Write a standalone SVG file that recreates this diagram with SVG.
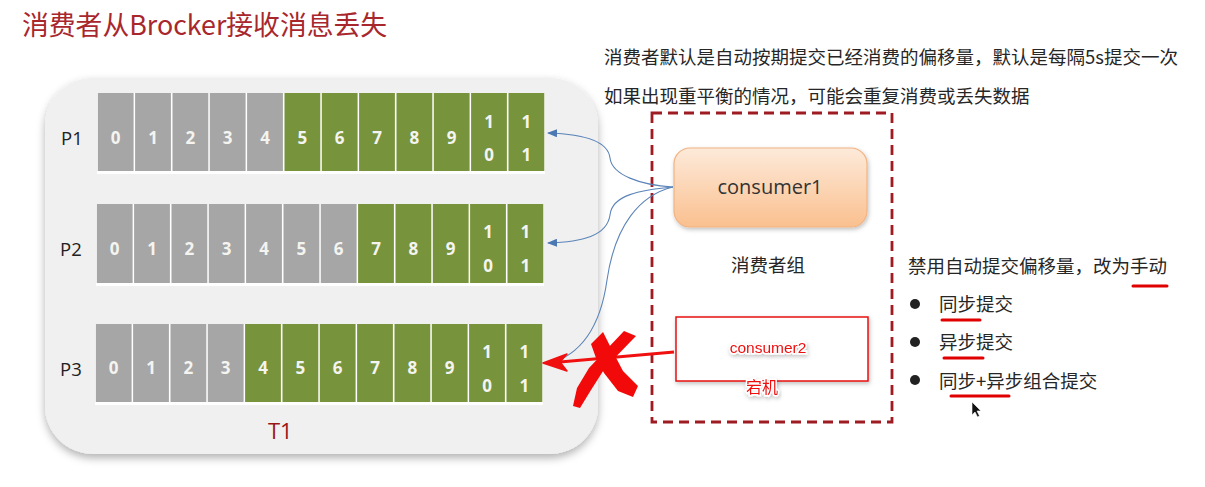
<svg xmlns="http://www.w3.org/2000/svg" width="1205" height="487" viewBox="0 0 1205 487">
<style>
.cjk{font-family:"Noto Sans CJK SC","Noto Sans",sans-serif;}
.g{fill:#A6A6A6;}
.v{fill:#77933C;}
.d{font-family:"Open Sans","Liberation Sans",sans-serif;font-weight:bold;font-size:17px;fill:#F4F4F0;text-anchor:middle;}
.pl{font-family:"Open Sans","Liberation Sans",sans-serif;font-size:18.5px;fill:#222;}
.t{font-family:"Noto Sans CJK SC",sans-serif;font-size:18.5px;fill:#262626;}
.blue{fill:none;stroke:#5B84B8;stroke-width:1.1;marker-end:url(#ab);}
.ul{stroke:#E00000;stroke-width:3;stroke-linecap:round;}
</style>
<defs>
<filter id="sh" x="-10%" y="-10%" width="120%" height="125%">
<feDropShadow dx="0" dy="4" stdDeviation="4" flood-color="#000" flood-opacity="0.3"/>
</filter>
<filter id="sh2" x="-10%" y="-20%" width="120%" height="140%">
<feDropShadow dx="1" dy="2" stdDeviation="2" flood-color="#000" flood-opacity="0.25"/>
</filter>
<linearGradient id="peach" x1="0" y1="0" x2="0" y2="1">
<stop offset="0" stop-color="#FDEADA"/>
<stop offset="1" stop-color="#FAC08F"/>
</linearGradient>
<marker id="ab" markerWidth="10" markerHeight="8" refX="9" refY="4" orient="auto" markerUnits="userSpaceOnUse">
<path d="M0,0 L10,4 L0,8 Z" fill="#4A78B4"/>
</marker>
</defs>

<text x="22" y="35" class="cjk" font-size="26.8" fill="#A8272D">消费者从Brocker接收消息丢失</text>

<g id="topic">
<rect x="45" y="78" width="553" height="376" rx="48" ry="48" fill="#F0F0F0" filter="url(#sh)"/>
<text x="268" y="439" font-family="Open Sans, Liberation Sans, sans-serif" font-size="22" fill="#9B1515">T1</text>
</g>

<g id="p1">
<text x="61" y="145" class="pl">P1</text>
<rect x="97" y="93" width="448" height="81" fill="#FFFFFF"/>
<rect class="g" x="97.8" y="93" width="35.8" height="78"/>
<rect class="g" x="135.1" y="93" width="35.8" height="78"/>
<rect class="g" x="172.5" y="93" width="35.8" height="78"/>
<rect class="g" x="209.8" y="93" width="35.8" height="78"/>
<rect class="g" x="247.1" y="93" width="35.8" height="78"/>
<rect class="v" x="284.5" y="93" width="35.8" height="78"/>
<rect class="v" x="321.8" y="93" width="35.8" height="78"/>
<rect class="v" x="359.1" y="93" width="35.8" height="78"/>
<rect class="v" x="396.5" y="93" width="35.8" height="78"/>
<rect class="v" x="433.8" y="93" width="35.8" height="78"/>
<rect class="v" x="471.1" y="93" width="35.8" height="78"/>
<rect class="v" x="508.5" y="93" width="35.8" height="78"/>
<text class="d" x="115.7" y="144">0</text>
<text class="d" x="153" y="144">1</text>
<text class="d" x="190.3" y="144">2</text>
<text class="d" x="227.7" y="144">3</text>
<text class="d" x="265" y="144">4</text>
<text class="d" x="302.3" y="144">5</text>
<text class="d" x="339.7" y="144">6</text>
<text class="d" x="377" y="144">7</text>
<text class="d" x="414.3" y="144">8</text>
<text class="d" x="451.7" y="144">9</text>
<text class="d" x="489" y="128">1</text>
<text class="d" x="489" y="161">0</text>
<text class="d" x="526.3" y="128">1</text>
<text class="d" x="526.3" y="161">1</text>
</g>

<g id="p2">
<text x="60" y="256" class="pl">P2</text>
<rect x="96" y="204" width="448" height="82" fill="#FFFFFF"/>
<rect class="g" x="96.8" y="204" width="35.8" height="79"/>
<rect class="g" x="134.1" y="204" width="35.8" height="79"/>
<rect class="g" x="171.5" y="204" width="35.8" height="79"/>
<rect class="g" x="208.8" y="204" width="35.8" height="79"/>
<rect class="g" x="246.1" y="204" width="35.8" height="79"/>
<rect class="g" x="283.5" y="204" width="35.8" height="79"/>
<rect class="g" x="320.8" y="204" width="35.8" height="79"/>
<rect class="v" x="358.1" y="204" width="35.8" height="79"/>
<rect class="v" x="395.5" y="204" width="35.8" height="79"/>
<rect class="v" x="432.8" y="204" width="35.8" height="79"/>
<rect class="v" x="470.1" y="204" width="35.8" height="79"/>
<rect class="v" x="507.5" y="204" width="35.8" height="79"/>
<text class="d" x="114.7" y="255">0</text>
<text class="d" x="152" y="255">1</text>
<text class="d" x="189.3" y="255">2</text>
<text class="d" x="226.7" y="255">3</text>
<text class="d" x="264" y="255">4</text>
<text class="d" x="301.3" y="255">5</text>
<text class="d" x="338.7" y="255">6</text>
<text class="d" x="376" y="255">7</text>
<text class="d" x="413.3" y="255">8</text>
<text class="d" x="450.7" y="255">9</text>
<text class="d" x="488" y="238">1</text>
<text class="d" x="488" y="272">0</text>
<text class="d" x="525.3" y="238">1</text>
<text class="d" x="525.3" y="272">1</text>
</g>

<g id="p3">
<text x="60" y="376" class="pl">P3</text>
<rect x="95" y="324" width="448" height="81" fill="#FFFFFF"/>
<rect class="g" x="95.8" y="324" width="35.8" height="78"/>
<rect class="g" x="133.1" y="324" width="35.8" height="78"/>
<rect class="g" x="170.5" y="324" width="35.8" height="78"/>
<rect class="g" x="207.8" y="324" width="35.8" height="78"/>
<rect class="v" x="245.1" y="324" width="35.8" height="78"/>
<rect class="v" x="282.5" y="324" width="35.8" height="78"/>
<rect class="v" x="319.8" y="324" width="35.8" height="78"/>
<rect class="v" x="357.1" y="324" width="35.8" height="78"/>
<rect class="v" x="394.5" y="324" width="35.8" height="78"/>
<rect class="v" x="431.8" y="324" width="35.8" height="78"/>
<rect class="v" x="469.1" y="324" width="35.8" height="78"/>
<rect class="v" x="506.5" y="324" width="35.8" height="78"/>
<text class="d" x="113.7" y="374">0</text>
<text class="d" x="151" y="374">1</text>
<text class="d" x="188.3" y="374">2</text>
<text class="d" x="225.7" y="374">3</text>
<text class="d" x="263" y="374">4</text>
<text class="d" x="300.3" y="374">5</text>
<text class="d" x="337.7" y="374">6</text>
<text class="d" x="375" y="374">7</text>
<text class="d" x="412.3" y="374">8</text>
<text class="d" x="449.7" y="374">9</text>
<text class="d" x="487" y="358">1</text>
<text class="d" x="487" y="392">0</text>
<text class="d" x="524.3" y="358">1</text>
<text class="d" x="524.3" y="392">1</text>
</g>

<g id="note">
<text x="604" y="64" class="t" font-size="18.7">消费者默认是自动按期提交已经消费的偏移量，默认是每隔5s提交一次</text>
<text x="604" y="103" class="t" font-size="19.6">如果出现重平衡的情况，可能会重复消费或丢失数据</text>
</g>

<g id="group">
<rect x="652" y="113" width="240" height="309" fill="none" stroke="#9E1B22" stroke-width="2.8" stroke-dasharray="10,6"/>
<text x="768" y="272" class="t" text-anchor="middle">消费者组</text>
</g>

<g id="consumer1">
<rect x="674" y="148" width="193" height="79" rx="16" ry="16" fill="url(#peach)" stroke="#F2B382" stroke-width="1.2" filter="url(#sh2)"/>
<text x="770" y="194" text-anchor="middle" font-family="Open Sans, Liberation Sans, sans-serif" font-size="20" fill="#333">consumer1</text>
</g>

<g id="consumer2">
<rect x="676" y="317" width="192" height="64" fill="#FFFFFF" stroke="#E81010" stroke-width="1.5" filter="url(#sh2)"/>
<text x="768" y="353" text-anchor="middle" font-family="Liberation Sans, sans-serif" font-size="15.5" fill="#F01010" stroke="#FFFFFF" stroke-width="3" paint-order="stroke" filter="url(#sh2)">consumer2</text>
<text x="762" y="393" text-anchor="middle" class="cjk" font-size="16" fill="#F01010" stroke="#FFFFFF" stroke-width="3" paint-order="stroke" filter="url(#sh2)">宕机</text>
</g>

<g id="connectors">
<path class="blue" d="M673,187 C640,185 612,175 610,158 C608,140 582,134 548,133"/>
<path class="blue" d="M673,187 C640,190 612,195 610,215 C607,236 582,242 548,243"/>
<path class="blue" d="M673,187 C640,195 615,225 607,280 C600,330 578,356 548,364"/>
<line x1="674" y1="352" x2="560" y2="362" stroke="#F01010" stroke-width="3.2"/>
<path d="M543,363 L567,354 L560,362 L567,371 Z" fill="#F01010" stroke="#F01010" stroke-width="1.5" stroke-linejoin="round"/>
</g>

<g id="cross">
<path d="M624,331 L636,336 L605,368 L591,390 L580,408 L573,406 L577,388 L589,368 Z" fill="#F20A0A"/>
<path d="M591,344 L603,332 L613,352 L623,371 L638,386 L633,397 L618,391 L604,373 L596,358 Z" fill="#F20A0A"/>
</g>

<g id="manual">
<text x="908" y="273" class="t">禁用自动提交偏移量，改为手动</text>
<line class="ul" x1="1133" y1="286" x2="1167" y2="286"/>
<circle cx="915" cy="304" r="5" fill="#222"/>
<text x="939" y="311" class="t">同步提交</text>
<line class="ul" x1="942" y1="320" x2="980" y2="320"/>
<circle cx="915" cy="342" r="5" fill="#222"/>
<text x="939" y="349" class="t">异步提交</text>
<line class="ul" x1="944" y1="358" x2="983" y2="358"/>
<circle cx="915" cy="380" r="5" fill="#222"/>
<text x="939" y="388" class="t">同步+异步组合提交</text>
<line class="ul" x1="951" y1="396" x2="1009" y2="396"/>
<path d="M972,402 L972,415 L975,412 L977.5,417 L979.5,416 L977,411 L981,411 Z" fill="#111" stroke="#fff" stroke-width="0.6"/>
</g>
</svg>
